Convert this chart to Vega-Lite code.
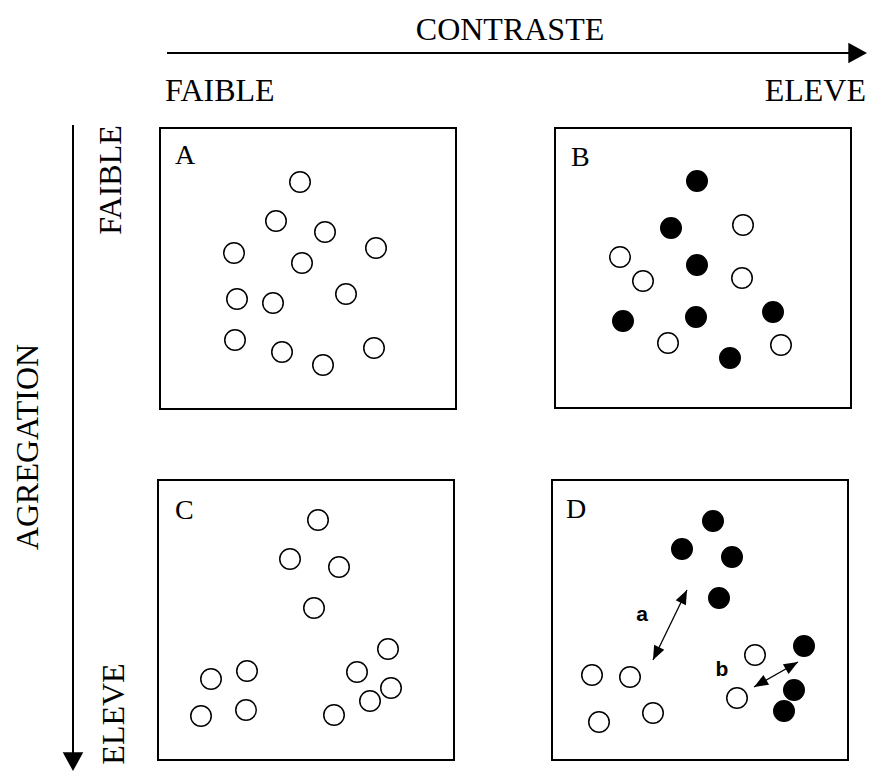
{
  "$schema": "https://vega.github.io/schema/vega-lite/v6.json",
  "width": 869,
  "height": 771,
  "padding": 0,
  "autosize": {"type": "fit", "contains": "padding"},
  "background": "white",
  "config": {"view": {"stroke": null}},
  "encoding": {
    "x": {"field": "x", "type": "quantitative", "scale": {"domain": [0, 869], "nice": false, "zero": false}, "axis": null},
    "y": {"field": "y", "type": "quantitative", "scale": {"domain": [771, 0], "nice": false, "zero": false}, "axis": null}
  },
  "layer": [
    {
      "data": {"values": [
        {"panel": "A", "x": 160, "y": 128, "x2": 456, "y2": 409},
        {"panel": "B", "x": 555, "y": 128, "x2": 851, "y2": 408},
        {"panel": "C", "x": 158, "y": 480, "x2": 454, "y2": 760},
        {"panel": "D", "x": 552, "y": 480, "x2": 848, "y2": 760}
      ]},
      "mark": {"type": "rect", "fill": null, "fillOpacity": 0, "stroke": "black", "strokeWidth": 2},
      "encoding": {"x2": {"field": "x2"}, "y2": {"field": "y2"}}
    },
    {
      "data": {"values": [
        {"arrow": "contraste", "x": 167, "y": 53, "x2": 856, "y2": 53},
        {"arrow": "agregation", "x": 73, "y": 125, "x2": 73, "y2": 758}
      ]},
      "mark": {"type": "rule", "stroke": "black", "strokeWidth": 2},
      "encoding": {"x2": {"field": "x2"}, "y2": {"field": "y2"}}
    },
    {
      "data": {"values": [
        {"arrow": "a", "x": 687, "y": 590, "x2": 653, "y2": 660},
        {"arrow": "b", "x": 798, "y": 662, "x2": 754, "y2": 687}
      ]},
      "mark": {"type": "rule", "stroke": "black", "strokeWidth": 1.3},
      "encoding": {"x2": {"field": "x2"}, "y2": {"field": "y2"}}
    },
    {
      "data": {"values": [
        {"arrow": "contraste", "x": 867, "y": 53, "heading": 0},
        {"arrow": "agregation", "x": 73, "y": 771, "heading": 90}
      ]},
      "mark": {"type": "point", "shape": "M0,0L-1,-0.55L-1,0.55Z", "filled": true, "fill": "black", "stroke": null, "size": 1400, "opacity": 1},
      "encoding": {"angle": {"field": "heading", "type": "quantitative", "scale": null}}
    },
    {
      "data": {"values": [
        {"arrow": "a", "x": 687, "y": 590, "heading": 296},
        {"arrow": "a", "x": 653, "y": 660, "heading": 116},
        {"arrow": "b", "x": 798, "y": 662, "heading": 330},
        {"arrow": "b", "x": 754, "y": 687, "heading": 150}
      ]},
      "mark": {"type": "point", "shape": "M0,0L-1,-0.4L-1,0.4Z", "filled": true, "fill": "black", "stroke": null, "size": 800, "opacity": 1},
      "encoding": {"angle": {"field": "heading", "type": "quantitative", "scale": null}}
    },
    {
      "data": {"values": [
        {"panel": "A", "x": 300, "y": 182, "type": "blanc"},
        {"panel": "A", "x": 276, "y": 221, "type": "blanc"},
        {"panel": "A", "x": 325, "y": 232, "type": "blanc"},
        {"panel": "A", "x": 376, "y": 248, "type": "blanc"},
        {"panel": "A", "x": 234, "y": 253, "type": "blanc"},
        {"panel": "A", "x": 302, "y": 263, "type": "blanc"},
        {"panel": "A", "x": 237, "y": 299, "type": "blanc"},
        {"panel": "A", "x": 273, "y": 303, "type": "blanc"},
        {"panel": "A", "x": 346, "y": 294, "type": "blanc"},
        {"panel": "A", "x": 235, "y": 340, "type": "blanc"},
        {"panel": "A", "x": 282, "y": 352, "type": "blanc"},
        {"panel": "A", "x": 323, "y": 365, "type": "blanc"},
        {"panel": "A", "x": 374, "y": 348, "type": "blanc"},
        {"panel": "B", "x": 697, "y": 181, "type": "noir"},
        {"panel": "B", "x": 671, "y": 228, "type": "noir"},
        {"panel": "B", "x": 697, "y": 265, "type": "noir"},
        {"panel": "B", "x": 623, "y": 321, "type": "noir"},
        {"panel": "B", "x": 696, "y": 317, "type": "noir"},
        {"panel": "B", "x": 773, "y": 312, "type": "noir"},
        {"panel": "B", "x": 730, "y": 358, "type": "noir"},
        {"panel": "B", "x": 743, "y": 225, "type": "blanc"},
        {"panel": "B", "x": 620, "y": 257, "type": "blanc"},
        {"panel": "B", "x": 643, "y": 281, "type": "blanc"},
        {"panel": "B", "x": 742, "y": 278, "type": "blanc"},
        {"panel": "B", "x": 668, "y": 343, "type": "blanc"},
        {"panel": "B", "x": 781, "y": 345, "type": "blanc"},
        {"panel": "C", "x": 318, "y": 520, "type": "blanc"},
        {"panel": "C", "x": 290, "y": 559, "type": "blanc"},
        {"panel": "C", "x": 339, "y": 567, "type": "blanc"},
        {"panel": "C", "x": 314, "y": 608, "type": "blanc"},
        {"panel": "C", "x": 388, "y": 649, "type": "blanc"},
        {"panel": "C", "x": 357, "y": 672, "type": "blanc"},
        {"panel": "C", "x": 391, "y": 688, "type": "blanc"},
        {"panel": "C", "x": 370, "y": 701, "type": "blanc"},
        {"panel": "C", "x": 334, "y": 715, "type": "blanc"},
        {"panel": "C", "x": 211, "y": 679, "type": "blanc"},
        {"panel": "C", "x": 247, "y": 671, "type": "blanc"},
        {"panel": "C", "x": 201, "y": 716, "type": "blanc"},
        {"panel": "C", "x": 246, "y": 710, "type": "blanc"},
        {"panel": "D", "x": 713, "y": 521, "type": "noir"},
        {"panel": "D", "x": 682, "y": 549, "type": "noir"},
        {"panel": "D", "x": 732, "y": 557, "type": "noir"},
        {"panel": "D", "x": 719, "y": 598, "type": "noir"},
        {"panel": "D", "x": 804, "y": 646, "type": "noir"},
        {"panel": "D", "x": 794, "y": 690, "type": "noir"},
        {"panel": "D", "x": 784, "y": 711, "type": "noir"},
        {"panel": "D", "x": 755, "y": 655, "type": "blanc"},
        {"panel": "D", "x": 737, "y": 698, "type": "blanc"},
        {"panel": "D", "x": 592, "y": 675, "type": "blanc"},
        {"panel": "D", "x": 630, "y": 677, "type": "blanc"},
        {"panel": "D", "x": 599, "y": 722, "type": "blanc"},
        {"panel": "D", "x": 653, "y": 713, "type": "blanc"}
      ]},
      "mark": {"type": "point", "shape": "circle", "filled": true, "stroke": "black", "strokeWidth": 1.5, "size": 420, "opacity": 1},
      "encoding": {
        "fill": {"field": "type", "type": "nominal", "scale": {"domain": ["blanc", "noir"], "range": ["white", "black"]}, "legend": null}
      }
    },
    {
      "data": {"values": [
        {"label": "CONTRASTE", "x": 510, "y": 40}
      ]},
      "mark": {"type": "text", "font": "Liberation Serif", "fontSize": 32, "align": "center", "baseline": "alphabetic", "color": "black"},
      "encoding": {"text": {"field": "label"}}
    },
    {
      "data": {"values": [
        {"label": "FAIBLE", "x": 165, "y": 101}
      ]},
      "mark": {"type": "text", "font": "Liberation Serif", "fontSize": 32, "align": "left", "baseline": "alphabetic", "color": "black"},
      "encoding": {"text": {"field": "label"}}
    },
    {
      "data": {"values": [
        {"label": "ELEVE", "x": 866, "y": 101}
      ]},
      "mark": {"type": "text", "font": "Liberation Serif", "fontSize": 32, "align": "right", "baseline": "alphabetic", "color": "black"},
      "encoding": {"text": {"field": "label"}}
    },
    {
      "data": {"values": [
        {"label": "AGREGATION", "x": 38, "y": 447},
        {"label": "FAIBLE", "x": 121, "y": 180},
        {"label": "ELEVE", "x": 124, "y": 714}
      ]},
      "mark": {"type": "text", "font": "Liberation Serif", "fontSize": 32, "align": "center", "baseline": "alphabetic", "angle": 270, "color": "black"},
      "encoding": {"text": {"field": "label"}}
    },
    {
      "data": {"values": [
        {"label": "A", "x": 175, "y": 164},
        {"label": "B", "x": 571, "y": 166},
        {"label": "C", "x": 175, "y": 519},
        {"label": "D", "x": 566, "y": 518}
      ]},
      "mark": {"type": "text", "font": "Liberation Serif", "fontSize": 28, "align": "left", "baseline": "alphabetic", "color": "black"},
      "encoding": {"text": {"field": "label"}}
    },
    {
      "data": {"values": [
        {"label": "a", "x": 642, "y": 621},
        {"label": "b", "x": 722, "y": 676}
      ]},
      "mark": {"type": "text", "font": "Liberation Sans", "fontWeight": "bold", "fontSize": 21, "align": "center", "baseline": "alphabetic", "color": "black"},
      "encoding": {"text": {"field": "label"}}
    }
  ]
}
